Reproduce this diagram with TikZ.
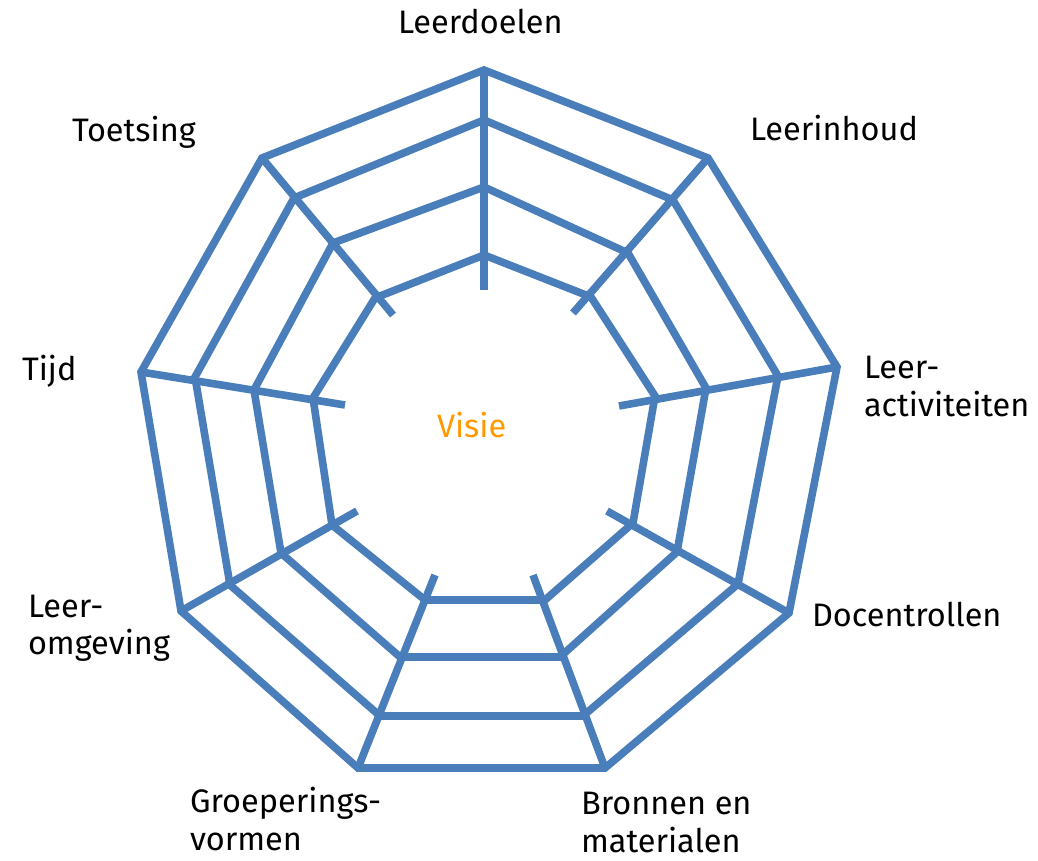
\documentclass[tikz,border=0pt]{standalone}
\usepackage{fontspec}
\setmainfont{Fira Sans}
\definecolor{webblue}{RGB}{74,126,187}
\definecolor{visieorange}{RGB}{255,153,0}
\tikzset{
  web/.style={draw=webblue, line width=7.6pt, line join=miter, line cap=butt},
  lbl/.style={anchor=base west, inner sep=0pt, outer sep=0pt, font=\fontsize{32.5}{38}\selectfont, text=black},
}
\begin{document}
\begin{tikzpicture}[x=1pt,y=-1pt]
\useasboundingbox (0,0) rectangle (1038,861);
% spoke coordinates: ring 1 (outer) .. ring 4, e = inner end
\coordinate (a1) at (484,70);  \coordinate (a2) at (484,120); \coordinate (a3) at (484,187); \coordinate (a4) at (484,255); \coordinate (ae) at (484,290);
\coordinate (b1) at (708,158); \coordinate (b2) at (673,200); \coordinate (b3) at (628,253); \coordinate (b4) at (591,297); \coordinate (be) at (573,313);
\coordinate (c1) at (837,367); \coordinate (c2) at (778,376); \coordinate (c3) at (706,388); \coordinate (c4) at (655,396); \coordinate (ce) at (619,406);
\coordinate (d1) at (789,613); \coordinate (d2) at (738,584); \coordinate (d3) at (677,552); \coordinate (d4) at (633,523); \coordinate (de) at (607,511);
\coordinate (f1) at (605,768); \coordinate (f2) at (583,716); \coordinate (f3) at (560,657); \coordinate (f4) at (545,600); \coordinate (fe) at (533,575);
\coordinate (g1) at (358,768); \coordinate (g2) at (380,716); \coordinate (g3) at (400,657); \coordinate (g4) at (425,600); \coordinate (ge) at (435,575);
\coordinate (h1) at (181,611); \coordinate (h2) at (230,585); \coordinate (h3) at (281,553); \coordinate (h4) at (332,525); \coordinate (he) at (357,511);
\coordinate (i1) at (141,372); \coordinate (i2) at (195,377); \coordinate (i3) at (254,390); \coordinate (i4) at (313,398); \coordinate (ie) at (345,405);
\coordinate (j1) at (262,158); \coordinate (j2) at (294,198); \coordinate (j3) at (333,243); \coordinate (j4) at (375,298); \coordinate (je) at (393,315);
% rings
\foreach \r in {1,2,3,4}{
  \draw[web] (a\r) -- (b\r) -- (c\r) -- (d\r) -- (f\r) -- (g\r) -- (h\r) -- (i\r) -- (j\r) -- cycle;
}
% spokes
\foreach \s in {a,b,c,d,f,g,h,i,j}{
  \draw[web] (\s e) -- (\s 1);
}
% labels
\node[lbl] (l1) at (398,34) {Leerdoelen};
\node[lbl] (l2) at (750,141) {Leerinhoud};
\node[lbl] (l3a) at (864,378) {Leer-};
\node[lbl] (l3b) at (864,416) {activiteiten};
\node[lbl] (l4) at (812,626) {Docentrollen};
\node[lbl] (l5a) at (581,814) {Bronnen en};
\node[lbl] (l5b) at (581,852) {materialen};
\node[lbl] (l6a) at (190,812) {Groeperings-};
\node[lbl] (l6b) at (190,850) {vormen};
\node[lbl] (l7a) at (28,617) {Leer-};
\node[lbl] (l7b) at (28,654) {omgeving};
\node[lbl] (l8) at (22,380) {Tijd};
\node[lbl] (l9) at (72,142) {Toetsing};
\node[lbl, text=visieorange] (v) at (437,437) {Visie};
\end{tikzpicture}
\end{document}
